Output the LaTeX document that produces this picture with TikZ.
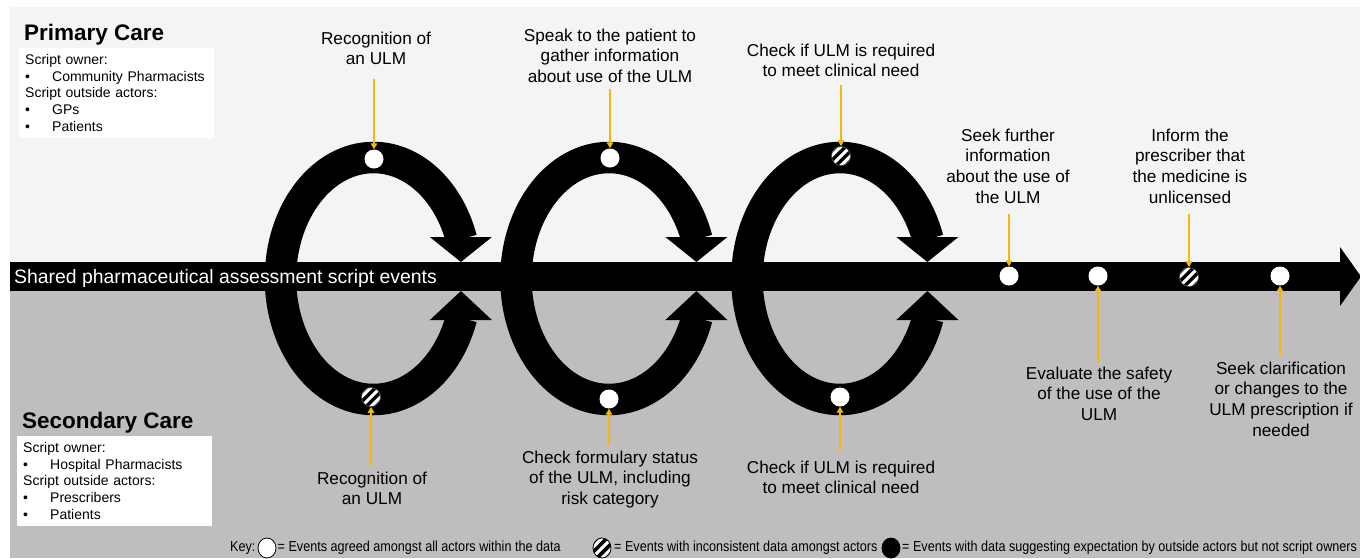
\documentclass[tikz,border=0pt]{standalone}
\usepackage{fontspec}
\setmainfont{Liberation Sans}
\newfontfamily\keyfont[FakeStretch=0.87]{Liberation Sans}
\usetikzlibrary{arrows.meta,calc,shapes.geometric}
\definecolor{topbg}{RGB}{243,244,246}
\definecolor{botbg}{RGB}{191,189,190}
\definecolor{amber}{RGB}{245,183,10}
\definecolor{rimgray}{RGB}{80,80,80}
\tikzset{
  loopline/.style={line width=31.5pt, black},
  evt/.style={circle, fill=white, minimum size=19pt, inner sep=0pt},
  hatched/.style={evt, draw=rimgray, line width=0.6pt, path picture={
      \foreach \d in {-10.2,-3.4,3.4,10.2}
        \draw[black,line width=3.4pt]
          ($(path picture bounding box.center)+(\d*0.7071-14,\d*0.7071+14)$) -- ++(28,-28);
  }},
  lab/.style={align=center, inner sep=0pt, font=\fontsize{17.2}{20.7}\selectfont},
  yarrow/.style={draw=amber, line width=2pt, -{Triangle[length=6pt,width=6.5pt]}},
  title/.style={inner sep=0pt, anchor=base west, font=\fontsize{22.5}{26}\selectfont\bfseries},
  legbox/.style={fill=white, anchor=north west, align=left, text width=183pt,
      inner xsep=6pt, inner ysep=6pt, font=\fontsize{14}{16.8}\selectfont},
  bandtext/.style={inner sep=0pt, anchor=base west, text=white, font=\fontsize{19.4}{23}\selectfont},
  keytext/.style={inner sep=0pt, anchor=west, font=\keyfont\fontsize{14.5}{17}\selectfont},
  keyshape/.style={ellipse, minimum width=18pt, minimum height=20pt, inner sep=0pt, draw=black, line width=0.8pt}
}
\newcommand{\bul}{\makebox[27pt][l]{\textbullet}}
\begin{document}
\begin{tikzpicture}[x=1pt,y=-1pt]
\useasboundingbox (0,0) rectangle (1360,558);
% backgrounds
\fill[white] (0,0) rectangle (1360,558);
\fill[topbg] (10,7) rectangle (1360,277);
\fill[botbg] (10,277) rectangle (1360,558);
% main band arrow
\fill[black] (10,262) rectangle (1341,291);
\fill[black] (1340,247) -- (1361,276.5) -- (1340,306) -- cycle;
% loops
\foreach \i/\cx in {1/373.5,2/609,3/840}{
  \coordinate (L\i) at (\cx,278.5);
  \draw[loopline] ($(L\i)+(180:93 and 121)$) arc[start angle=180,end angle=341,x radius=93,y radius=121];
  \draw[loopline] ($(L\i)+(180:93 and 121)$) arc[start angle=180,end angle=19,x radius=93,y radius=121];
  \fill[black] ($(L\i)+(56.4,-41.5)$) -- ($(L\i)+(118.4,-41.5)$) -- ($(L\i)+(87.4,-16.5)$) -- cycle;
  \fill[black] ($(L\i)+(56.4,41.5)$) -- ($(L\i)+(118.4,41.5)$) -- ($(L\i)+(87.4,12.5)$) -- cycle;
}
% band text
\node[bandtext] (band) at (14,283.5) {Shared pharmaceutical assessment script events};
% titles and legend boxes
\node[title] (ptitle) at (24,40) {Primary Care};
\node[legbox] (pbox) at (19,48) {Script owner:\\\bul Community Pharmacists\\Script outside actors:\\\bul GPs\\\bul Patients};
\node[title] (stitle) at (22,428) {Secondary Care};
\node[legbox] (sbox) at (17,436) {Script owner:\\\bul Hospital Pharmacists\\Script outside actors:\\\bul Prescribers\\\bul Patients};
% events
\node[evt] (e1) at (374,159) {};
\node[evt] (e2) at (610,158) {};
\node[hatched] (e3) at (841,156) {};
\node[hatched] (e4) at (371,397) {};
\node[evt] (e5) at (609,399) {};
\node[evt] (e6) at (840,397) {};
\node[evt] (e7) at (1009,276) {};
\node[evt] (e8) at (1098,276) {};
\node[hatched] (e9) at (1189,277) {};
\node[evt] (e10) at (1280,276) {};
% labels
\node[lab,anchor=north] (t1) at (376,31.4) {Recognition of\\an ULM};
\node[lab,anchor=north] (t2) at (610,28.4) {Speak to the patient to\\gather information\\about use of the ULM};
\node[lab,anchor=north] (t3) at (841,43.4) {Check if ULM is required\\to meet clinical need};
\node[lab,anchor=north] (t4) at (1008,128.4) {Seek further\\information\\about the use of\\the ULM};
\node[lab,anchor=north] (t5) at (1190,128.4) {Inform the\\prescriber that\\the medicine is\\unlicensed};
\node[lab,anchor=north] (b1) at (372,471.4) {Recognition of\\an ULM};
\node[lab,anchor=north] (b2) at (610,450.4) {Check formulary status\\of the ULM, including\\risk category};
\node[lab,anchor=north] (b3) at (841,460.4) {Check if ULM is required\\to meet clinical need};
\node[lab,anchor=north] (b4) at (1099,366.4) {Evaluate the safety\\of the use of the\\ULM};
\node[lab,anchor=north] (b5) at (1281,361.4) {Seek clarification\\or changes to the\\ULM prescription if\\needed};
% yellow arrows
\draw[yarrow, shorten <=14pt] (t1.south -| e1) -- (e1.north);
\draw[yarrow, shorten <=6pt] (t2.south -| e2) -- (e2.north);
\draw[yarrow, shorten <=8pt] (t3.south -| e3) -- (e3.north);
\draw[yarrow, shorten <=10pt] (t4.south -| e7) -- (e7.north);
\draw[yarrow, shorten <=10pt] (t5.south -| e9) -- (e9.north);
\draw[yarrow, shorten <=6pt] (b1.north -| e4) -- (e4.south);
\draw[yarrow, shorten <=5pt] (b2.north -| e5) -- (e5.south);
\draw[yarrow, shorten <=8pt] (b3.north -| e6) -- (e6.south);
\draw[yarrow, shorten <=3pt] (b4.north -| e8) -- (e8.south);
\draw[yarrow, shorten <=5pt] (b5.north -| e10) -- (e10.south);
% key
\node[keytext] (key) at (230,548) {Key:};
\node[keyshape, fill=white] (k1) at (267,548) {};
\node[keytext] (k1t) at (277.5,548) {= Events agreed amongst all actors within the data};
\node[keyshape, fill=white, path picture={
      \foreach \d in {-10.5,-3.5,3.5,10.5}
        \draw[black,line width=3.6pt]
          ($(path picture bounding box.center)+(\d*0.7071-15,\d*0.7071+15)$) -- ++(30,-30);
  }] (k2) at (602,548) {};
\node[keytext] (k2t) at (614,548) {= Events with inconsistent data amongst actors};
\node[keyshape, fill=black] (k3) at (891,548) {};
\node[keytext] (k3t) at (902,548) {= Events with data suggesting expectation by outside actors but not script owners};
\end{tikzpicture}
\end{document}
